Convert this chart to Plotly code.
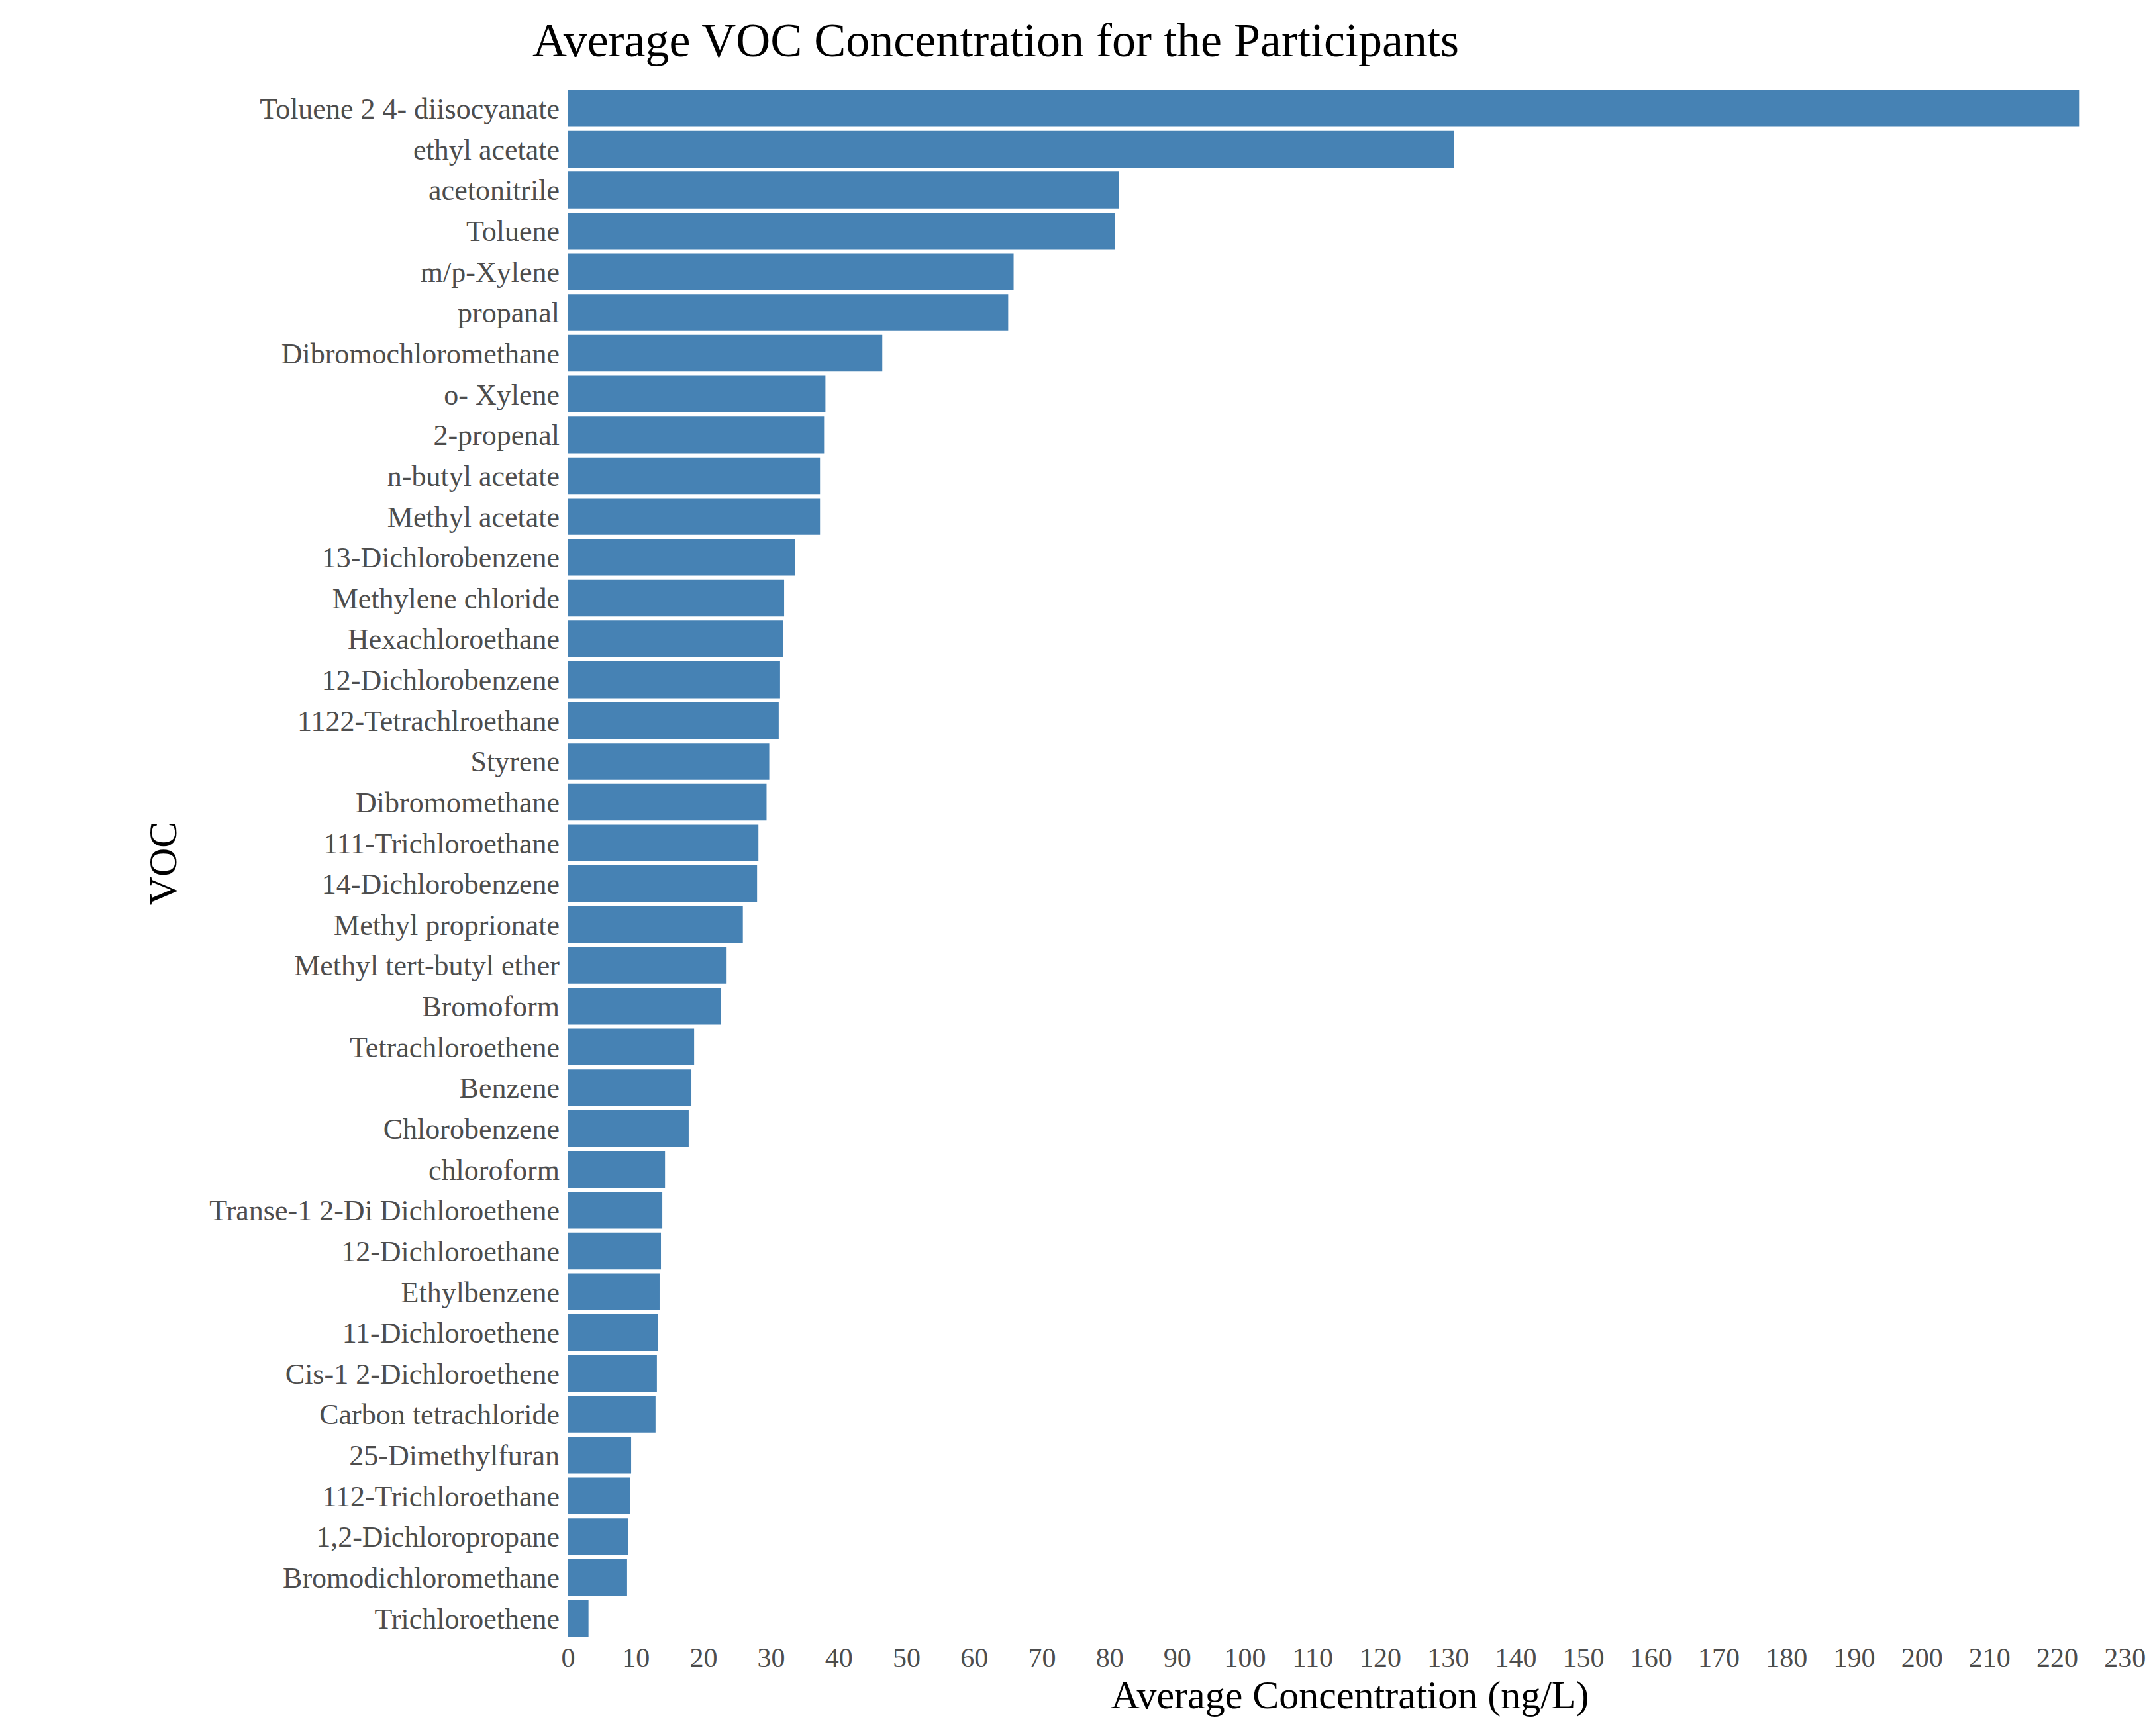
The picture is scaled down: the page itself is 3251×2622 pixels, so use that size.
import plotly.graph_objects as go

vocs = [
    "Toluene 2 4- diisocyanate", "ethyl acetate", "acetonitrile", "Toluene",
    "m/p-Xylene", "propanal", "Dibromochloromethane", "o- Xylene", "2-propenal",
    "n-butyl acetate", "Methyl acetate", "13-Dichlorobenzene", "Methylene chloride",
    "Hexachloroethane", "12-Dichlorobenzene", "1122-Tetrachlroethane", "Styrene",
    "Dibromomethane", "111-Trichloroethane", "14-Dichlorobenzene", "Methyl proprionate",
    "Methyl tert-butyl ether", "Bromoform", "Tetrachloroethene", "Benzene",
    "Chlorobenzene", "chloroform", "Transe-1 2-Di Dichloroethene", "12-Dichloroethane",
    "Ethylbenzene", "11-Dichloroethene", "Cis-1 2-Dichloroethene", "Carbon tetrachloride",
    "25-Dimethylfuran", "112-Trichloroethane", "1,2-Dichloropropane",
    "Bromodichloromethane", "Trichloroethene",
]
concentration = [
    223.3, 130.9, 81.4, 80.8, 65.8, 65.0, 46.4, 38.0, 37.8, 37.2, 37.2, 33.5,
    31.9, 31.7, 31.3, 31.1, 29.7, 29.3, 28.1, 27.9, 25.8, 23.4, 22.6, 18.6,
    18.2, 17.8, 14.3, 13.9, 13.7, 13.5, 13.3, 13.1, 12.9, 9.3, 9.1, 8.9, 8.7, 3.0,
]
x_ticks = list(range(0, 231, 10))

fig = go.Figure(go.Bar(
    x=concentration, y=vocs, orientation="h",
    marker=dict(color="#4682B4", line=dict(width=0)),
))

fig.update_layout(
    width=3251, height=2622,
    paper_bgcolor="white", plot_bgcolor="white",
    font=dict(family="Liberation Serif", color="black"),
    title=dict(text="Average VOC Concentration for the Participants",
               x=0.46, xanchor="center", y=0.99, yanchor="top",
               font=dict(size=72)),
    margin=dict(l=850, r=40, t=125, b=155),
    bargap=0.1,
    showlegend=False,
)
fig.update_xaxes(
    range=[0, 231], tickvals=x_ticks, showgrid=False, zeroline=False,
    tickfont=dict(size=42, color="#4d4d4d"), ticks="",
    title=dict(text="Average Concentration (ng/L)", font=dict(size=60), standoff=8),
)
fig.update_yaxes(
    autorange="reversed", showgrid=False, ticks="", ticklabelstandoff=12,
    tickfont=dict(size=44, color="#4d4d4d"),
    title=dict(text="VOC", font=dict(size=60), standoff=30),
)

fig.write_html("out.html")
